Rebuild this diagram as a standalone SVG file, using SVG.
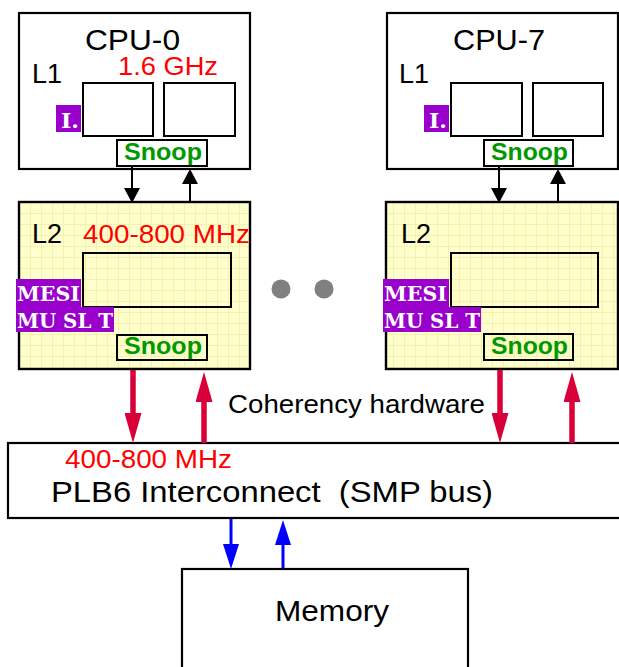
<svg xmlns="http://www.w3.org/2000/svg" width="619" height="667" viewBox="0 0 619 667">
  <style>
    .box { fill: #ffffff; stroke: #000000; stroke-width: 2.2; }
    .l2 { fill: url(#grid); stroke: #000000; stroke-width: 2.4; }
    .inner { fill: none; stroke: #000000; stroke-width: 2; }
    .snoopbox { fill: #ffffff; stroke: #000000; stroke-width: 2; }
    .snoopbox2 { fill: url(#grid); stroke: #000000; stroke-width: 2; }
    .lbl { font-family: "Liberation Sans", Arial, sans-serif; fill: #000000; }
    .red { font-family: "Liberation Sans", Arial, sans-serif; fill: #ff0000; }
    .snoop { font-family: "Liberation Sans", Arial, sans-serif; font-weight: bold; fill: #009900; font-size: 23px; }
    .badge { fill: #9900cc; }
    .badgetxt { font-family: "DejaVu Serif", "Liberation Serif", serif; font-weight: bold; fill: #ffffff; font-size: 21px; }
    .blk { stroke: #000000; stroke-width: 2; fill: none; }
    .crim { stroke: #d9003a; stroke-width: 5.5; fill: none; }
    .blu { stroke: #0000ff; stroke-width: 3; fill: none; }
  </style>
  <defs>
    <pattern id="grid" patternUnits="userSpaceOnUse" x="19" y="202" width="11" height="11">
      <rect width="11" height="11" fill="#ffffcc"/>
      <path d="M0,0.5 H11 M0.5,0 V11" stroke="#f5f2b0" stroke-width="1"/>
    </pattern>
    <marker id="hk" markerUnits="userSpaceOnUse" markerWidth="15" markerHeight="16" refX="0" refY="8" orient="auto">
      <path d="M0,0 L15,8 L0,16 z" fill="#000000"/>
    </marker>
    <marker id="hr" markerUnits="userSpaceOnUse" markerWidth="30" markerHeight="17" refX="0" refY="8.5" orient="auto">
      <path d="M0,0 L30,8.5 L0,17 z" fill="#d9003a"/>
    </marker>
    <marker id="hb" markerUnits="userSpaceOnUse" markerWidth="25" markerHeight="16" refX="0" refY="8" orient="auto">
      <path d="M0,0 L25,8 L0,16 z" fill="#0000ff"/>
    </marker>
  </defs>

  <!-- CPU-0 with its L1 -->
  <g id="cpu0">
    <rect class="box" x="19" y="13" width="231" height="156"/>
    <text class="lbl" x="85" y="50" font-size="29" textLength="95" lengthAdjust="spacingAndGlyphs">CPU-0</text>
    <text class="lbl" x="32" y="83" font-size="27">L1</text>
    <text class="red" x="118" y="75" font-size="25" textLength="100" lengthAdjust="spacingAndGlyphs">1.6 GHz</text>
    <rect class="inner" x="83" y="83" width="70" height="53"/>
    <rect class="inner" x="164" y="83" width="71" height="53"/>
    <rect class="badge" x="56" y="105" width="25" height="27"/>
    <text class="badgetxt" x="61" y="128" textLength="18" lengthAdjust="spacingAndGlyphs">I.</text>
    <rect class="snoopbox" x="117" y="140" width="90" height="26"/>
    <text class="snoop" x="124" y="160" textLength="78" lengthAdjust="spacingAndGlyphs">Snoop</text>
  </g>

  <!-- CPU-7 with its L1 -->
  <g id="cpu7">
    <rect class="box" x="387" y="13" width="231" height="156"/>
    <text class="lbl" x="453" y="50" font-size="29" textLength="92" lengthAdjust="spacingAndGlyphs">CPU-7</text>
    <text class="lbl" x="399" y="83" font-size="27">L1</text>
    <rect class="inner" x="451" y="83" width="71" height="53"/>
    <rect class="inner" x="533" y="83" width="70" height="53"/>
    <rect class="badge" x="424" y="105" width="25" height="27"/>
    <text class="badgetxt" x="429" y="128" textLength="18" lengthAdjust="spacingAndGlyphs">I.</text>
    <rect class="snoopbox" x="484" y="140" width="89" height="26"/>
    <text class="snoop" x="491" y="160" textLength="77" lengthAdjust="spacingAndGlyphs">Snoop</text>
  </g>

  <!-- L2 cache of CPU-0 -->
  <g id="l2-0">
    <rect class="l2" x="19" y="202" width="231" height="167"/>
    <text class="lbl" x="32" y="243" font-size="27">L2</text>
    <text class="red" x="83" y="243" font-size="25" textLength="167" lengthAdjust="spacingAndGlyphs">400-800 MHz</text>
    <rect class="inner" x="83" y="253" width="148" height="54"/>
    <rect class="badge" x="16" y="279" width="65" height="28"/>
    <text class="badgetxt" x="17" y="301" textLength="63" lengthAdjust="spacingAndGlyphs">MESI</text>
    <rect class="badge" x="16" y="307" width="98" height="25"/>
    <text class="badgetxt" x="17" y="328" textLength="96" lengthAdjust="spacingAndGlyphs">MU SL T</text>
    <rect class="snoopbox2" x="117" y="335" width="90" height="25"/>
    <text class="snoop" x="124" y="354" textLength="78" lengthAdjust="spacingAndGlyphs">Snoop</text>
  </g>

  <!-- L2 cache of CPU-7 -->
  <g id="l2-7">
    <rect class="l2" x="386" y="202" width="232" height="167"/>
    <text class="lbl" x="401" y="243" font-size="27">L2</text>
    <rect class="inner" x="451" y="253" width="147" height="54"/>
    <rect class="badge" x="383" y="279" width="66" height="28"/>
    <text class="badgetxt" x="384" y="301" textLength="63" lengthAdjust="spacingAndGlyphs">MESI</text>
    <rect class="badge" x="383" y="307" width="98" height="25"/>
    <text class="badgetxt" x="384" y="328" textLength="96" lengthAdjust="spacingAndGlyphs">MU SL T</text>
    <rect class="snoopbox2" x="484" y="334" width="89" height="26"/>
    <text class="snoop" x="491" y="354" textLength="77" lengthAdjust="spacingAndGlyphs">Snoop</text>
  </g>

  <!-- ellipsis between the processors -->
  <g id="ellipsis" fill="#808080">
    <circle cx="281" cy="289" r="9.5"/>
    <circle cx="324" cy="289" r="9.5"/>
  </g>

  <!-- PLB6 bus -->
  <g id="bus">
    <rect class="box" x="8" y="443" width="630" height="75"/>
    <text class="red" x="65" y="468" font-size="25" textLength="167" lengthAdjust="spacingAndGlyphs">400-800 MHz</text>
    <text class="lbl" x="51" y="502" font-size="30" textLength="442" lengthAdjust="spacingAndGlyphs" xml:space="preserve">PLB6 Interconnect  (SMP bus)</text>
  </g>

  <!-- Memory -->
  <g id="memory">
    <rect class="box" x="182" y="569" width="286" height="110"/>
    <text class="lbl" x="275" y="621" font-size="29" textLength="114" lengthAdjust="spacingAndGlyphs">Memory</text>
  </g>

  <text id="coherency" class="lbl" x="228" y="413" font-size="26" textLength="257" lengthAdjust="spacingAndGlyphs">Coherency hardware</text>

  <!-- connectors -->
  <g id="connectors">
    <line class="blk" x1="132" y1="167" x2="132" y2="188" marker-end="url(#hk)"/>
    <line class="blk" x1="190" y1="202" x2="190" y2="184" marker-end="url(#hk)"/>
    <line class="blk" x1="499" y1="167" x2="499" y2="188" marker-end="url(#hk)"/>
    <line class="blk" x1="558" y1="202" x2="558" y2="184" marker-end="url(#hk)"/>

    <line class="crim" x1="133" y1="370" x2="133" y2="413" marker-end="url(#hr)"/>
    <line class="crim" x1="204" y1="443" x2="204" y2="402" marker-end="url(#hr)"/>
    <line class="crim" x1="500" y1="370" x2="500" y2="413" marker-end="url(#hr)"/>
    <line class="crim" x1="572" y1="443" x2="572" y2="402" marker-end="url(#hr)"/>

    <line class="blu" x1="231" y1="519" x2="231" y2="544" marker-end="url(#hb)"/>
    <line class="blu" x1="283" y1="568" x2="283" y2="545" marker-end="url(#hb)"/>
  </g>
</svg>
